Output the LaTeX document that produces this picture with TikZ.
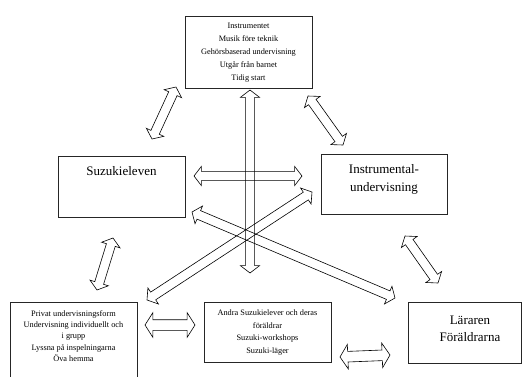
\documentclass[tikz,border=0pt]{standalone}
\usepackage{fontspec}
\setmainfont{Liberation Serif}
\usetikzlibrary{shapes.arrows,calc}
\tikzset{
  box/.style={draw=black!85, line width=0.8pt, rectangle, inner sep=0pt},
  small/.style={align=center, font=\fontsize{8.3}{12.5}\selectfont, inner sep=0pt},
  big/.style={align=center, font=\fontsize{13}{18}\selectfont, inner sep=0pt},
  dar/.style={double arrow, draw=black, line width=0.6pt, inner xsep=0pt, inner ysep=4.3pt,
    minimum width=0pt, double arrow head extend=5pt, double arrow tip angle=105},
  widedar/.style={inner ysep=5pt, double arrow head extend=7pt, double arrow tip angle=115}
}
\newcommand\mydarr[4][]{%
  \path let \p1=(#3), \p2=(#4), \n1={atan2(\y2-\y1,\x2-\x1)},
    \n2={veclen(\x2-\x1,\y2-\y1)} in
    node[dar, #1, rotate=\n1, minimum height=\n2] (#2) at ($(#3)!0.5!(#4)$) {};}
\begin{document}
\begin{tikzpicture}[x=1pt,y=-1pt]
\useasboundingbox (0,0) rectangle (523,376);
% boxes
\node[box, minimum width=127pt, minimum height=72pt] (topbox) at (248.5,52) {};
\node[small, font=\fontsize{8.3}{13}\selectfont] (toptext) at (248.5,53) {Instrumentet\\Musik före teknik\\Gehörsbaserad undervisning\\Utgår från barnet\\Tidig start};
\node[box, minimum width=127pt, minimum height=61pt] (elev) at (121.5,186.5) {};
\node[big] (elevtext) at (121.5,171) {Suzukieleven};
\node[box, minimum width=126pt, minimum height=60pt] (instr) at (384,184) {};
\node[big] (instrtext) at (384,179.5) {Instrumental-\\undervisning};
\node[box, minimum width=127pt, minimum height=80pt] (privat) at (73.5,342) {};
\node[small, font=\fontsize{8.3}{11.2}\selectfont] (privattext) at (73.5,336) {Privat undervisningsform\\Undervisning individuellt och\\i grupp\\Lyssna på inspelningarna\\Öva hemma};
\node[box, minimum width=127pt, minimum height=60pt] (andra) at (267.5,332) {};
\node[small, font=\fontsize{8.3}{12.7}\selectfont] (andratext) at (267.5,332.5) {Andra Suzukielever och deras\\föräldrar\\Suzuki-workshops\\Suzuki-läger};
\node[box, minimum width=113pt, minimum height=61pt] (larare) at (464.5,332.5) {};
\node[big, font=\fontsize{13}{17}\selectfont] (lararetext) at (470,328.5) {Läraren\\Föräldrarna};
% arrow end points
\coordinate (a1s) at (152,139); \coordinate (a1e) at (176,87);
\coordinate (a2s) at (308,96);  \coordinate (a2e) at (343,145);
\coordinate (a3s) at (250,90);  \coordinate (a3e) at (250,273);
\coordinate (a4s) at (194,176); \coordinate (a4e) at (302,176);
\coordinate (a5s) at (147,300); \coordinate (a5e) at (312,192);
\coordinate (a6s) at (192,212); \coordinate (a6e) at (395,298);
\coordinate (a7s) at (97,290);  \coordinate (a7e) at (113,238);
\coordinate (a8s) at (405,236); \coordinate (a8e) at (438,283);
\coordinate (a9s) at (145,325); \coordinate (a9e) at (195,325);
\coordinate (a10s) at (340,357); \coordinate (a10e) at (390,355);
% double arrows
\mydarr{arrA}{a1s}{a1e}
\mydarr{arrB}{a2s}{a2e}
\mydarr{arrC}{a3s}{a3e}
\mydarr{arrD}{a4s}{a4e}
\mydarr{arrE}{a5s}{a5e}
\mydarr{arrF}{a6s}{a6e}
\mydarr{arrG}{a7s}{a7e}
\mydarr{arrH}{a8s}{a8e}
\mydarr[widedar]{arrI}{a9s}{a9e}
\mydarr[widedar]{arrJ}{a10s}{a10e}
\end{tikzpicture}
\end{document}
